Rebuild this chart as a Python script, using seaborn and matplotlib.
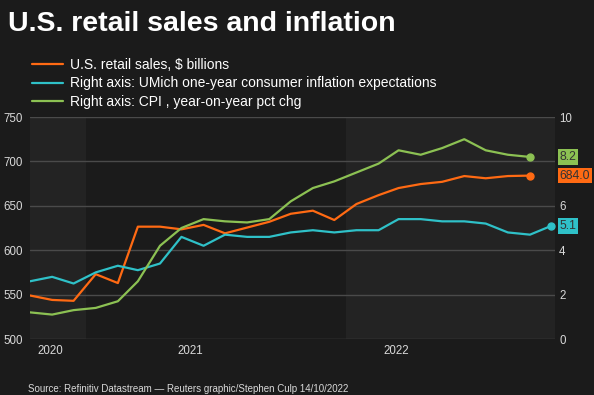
import pandas as pd
import seaborn as sns
import matplotlib.pyplot as plt
import matplotlib.transforms as mtransforms

# Monthly data, Oct 2020 - Oct 2022 (points drawn at mid-month)
months = pd.date_range("2020-10-01", periods=25, freq="MS") + pd.Timedelta(days=14)

retail_sales = [549, 544, 543, 573, 563, 626.5, 626.5, 623.5, 628.5, 619, 625.5, 632,
                641, 644.5, 634, 652, 662, 670, 674.5, 677, 683.5, 681, 683.5, 684.0]
umich_expect = [2.6, 2.8, 2.5, 3.0, 3.3, 3.1, 3.4, 4.6, 4.2, 4.7, 4.6, 4.6,
                4.8, 4.9, 4.8, 4.9, 4.9, 5.4, 5.4, 5.3, 5.3, 5.2, 4.8, 4.7, 5.1]
cpi_yoy = [1.2, 1.1, 1.3, 1.4, 1.7, 2.6, 4.2, 5.0, 5.4, 5.3, 5.25, 5.4,
           6.2, 6.8, 7.1, 7.5, 7.9, 8.5, 8.3, 8.6, 9.0, 8.5, 8.3, 8.2]

labels = [
    "U.S. retail sales, $ billions",
    "Right axis: UMich one-year consumer inflation expectations",
    "Right axis: CPI , year-on-year pct chg",
]
colors = ["#ff6a13", "#2fc1c8", "#8cc153"]
year_labels = ["2020", "2021", "2022"]
year_pos = pd.to_datetime(["2020-11-13", "2021-05-28", "2022-03-12"])

BG = "#1b1b1b"
BAND = "#232323"
GRID = "#4a4a4a"
TXT = "#d9d9d9"

sns.set_style("dark")
plt.rcParams["font.family"] = ["Liberation Sans", "DejaVu Sans"]

fig = plt.figure(figsize=(5.94, 3.95), dpi=100, facecolor=BG)
ax = fig.add_axes([30 / 594, 1 - 339 / 395, 525 / 594, 222 / 395])
ax.set_facecolor(BG)
ax2 = ax.twinx()

x_start = pd.Timestamp("2020-10-15")
x_end = pd.Timestamp("2022-10-20")
ax.axvspan(x_start, pd.Timestamp("2021-01-01"), color=BAND, lw=0, zorder=0)
ax.axvspan(pd.Timestamp("2022-01-01"), x_end, color=BAND, lw=0, zorder=0)

for v in range(500, 751, 50):
    ax.axhline(v, color=GRID, lw=1, zorder=1)

n_rs = len(retail_sales)
n_cpi = len(cpi_yoy)
sns.lineplot(x=months[:n_rs], y=retail_sales, ax=ax, color=colors[0], lw=1.6, zorder=5)
sns.lineplot(x=months, y=umich_expect, ax=ax2, color=colors[1], lw=1.6, zorder=5)
sns.lineplot(x=months[:n_cpi], y=cpi_yoy, ax=ax2, color=colors[2], lw=1.6, zorder=5)

ax.plot(months[n_rs - 1], retail_sales[-1], "o", color=colors[0], ms=5, zorder=6)
ax2.plot(months[-1], umich_expect[-1], "o", color=colors[1], ms=5, zorder=6, clip_on=False)
ax2.plot(months[n_cpi - 1], cpi_yoy[-1], "o", color=colors[2], ms=5, zorder=6)

ax.set_xlim(x_start, x_end)
ax.set_ylim(500, 750)
ax2.set_ylim(0, 10)
ax.set_yticks(range(500, 751, 50))
ax2.set_yticks(range(0, 11, 2))
# the "8" tick sits under the CPI value box in the reference
ax2.set_yticklabels(["0", "2", "4", "6", "", "10"])
ax.set_xticks(year_pos)
ax.set_xticklabels(year_labels)
ax.grid(False)
ax2.grid(False)
for a in (ax, ax2):
    for s in a.spines.values():
        s.set_visible(False)
    a.set_xlabel("")
    a.set_ylabel("")
ax.tick_params(axis="both", length=0, colors=TXT, labelsize=8.3)
ax.tick_params(axis="y", pad=5)
ax.tick_params(axis="x", pad=4)
ax2.tick_params(axis="y", length=0, colors=TXT, labelsize=8.3, pad=3)

# value labels at the right edge
def end_label(axis, value, text, color):
    tr = mtransforms.blended_transform_factory(axis.transAxes, axis.transData)
    axis.text(1.009, value, text, transform=tr, ha="left", va="center",
              fontsize=8.8, color="#333333", zorder=10,
              bbox=dict(boxstyle="square,pad=0.15", fc=color, ec="none"))

end_label(ax2, cpi_yoy[-1], f"{cpi_yoy[-1]:.1f}", colors[2])
end_label(ax, retail_sales[-1], f"{retail_sales[-1]:.1f}", colors[0])
end_label(ax2, umich_expect[-1], f"{umich_expect[-1]:.1f}", colors[1])

# legend
handles = [plt.Line2D([], [], color=c, lw=1.6) for c in colors]
fig.legend(handles, labels, loc="upper left", bbox_to_anchor=(32 / 594, 1 - 58 / 395),
           frameon=False, fontsize=10, labelcolor="white", handlelength=2.2,
           handletextpad=0.5, labelspacing=0.32, borderaxespad=0, borderpad=0)

fig.text(8 / 594, 1 - 24 / 395, "U.S. retail sales and inflation", fontsize=20.5,
         fontweight="bold", color="white", va="center", ha="left")
fig.text(28 / 594, 1 - 389 / 395,
         "Source: Refinitiv Datastream \u2014 Reuters graphic/Stephen Culp 14/10/2022",
         fontsize=7, color=TXT, va="center", ha="left")

fig.savefig("out.png", dpi=100, facecolor=BG)
plt.close(fig)
